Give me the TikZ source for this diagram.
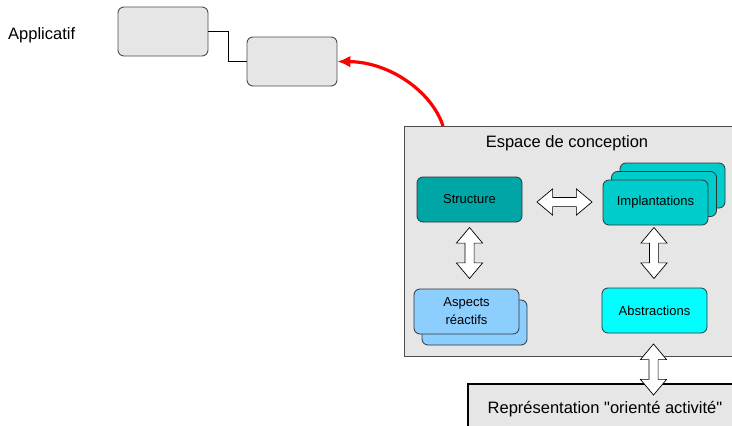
\documentclass[tikz,border=0pt]{standalone}
\usepackage{fontspec}
\setmainfont{Liberation Sans}
\usepackage{xcolor}
\usetikzlibrary{arrows.meta,shapes.arrows}

\definecolor{boxgray}{HTML}{E6E6E6}
\definecolor{edgegray}{HTML}{4D4D4D}
\definecolor{structcol}{HTML}{00A6A6}
\definecolor{implcol}{HTML}{00CCCC}
\definecolor{abstrcol}{HTML}{00FFFF}
\definecolor{aspcol}{HTML}{8CCFFF}

\tikzset{
  appbox/.style={draw=edgegray, fill=boxgray, rounded corners=6pt, line width=0.9pt,
    minimum width=90pt, minimum height=49pt},
  sbox/.style={draw=black!80, rounded corners=6pt, line width=0.8pt, align=center,
    minimum width=105pt, minimum height=45pt, font=\fontsize{13}{18}\selectfont},
  dblarrow/.style={double arrow, draw=black, fill=white, line width=0.7pt,
    inner xsep=0pt, inner ysep=4.25pt, double arrow head extend=8.5pt, double arrow tip angle=80},
  vdblarrow/.style={dblarrow, inner xsep=4.25pt, inner ysep=0pt, shape border rotate=90},
  bigtxt/.style={font=\fontsize{16.5}{20}\selectfont, inner sep=0pt}
}

\begin{document}
\begin{tikzpicture}[x=1pt, y=-1pt]
    \clip (0,0) rectangle (732,426);
    \fill[white] (0,0) rectangle (732,426);

    % applicative level
    \node[bigtxt, anchor=base west] (appl) at (8,39) {Applicatif};
    \node[appbox] (A) at (163,31.5) {};
    \node[appbox] (B) at (292,61.5) {};
    \draw[line width=0.8pt] (A.east) -- ++(20,0) |- (B.west);

    % design space
    \node[draw=edgegray, fill=boxgray, line width=0.9pt, anchor=north west,
      minimum width=340pt, minimum height=230pt] (esp) at (404,126) {};
    \node[bigtxt, anchor=base] (esptitle) at (567,147) {Espace de conception};

    \node[sbox, fill=structcol] (S) at (469.5,199.5) {Structure};
    \node[sbox, fill=implcol] (I3) at (672.5,185.5) {};
    \node[sbox, fill=implcol] (I2) at (664,194) {};
    \node[sbox, fill=implcol] (I) at (655.5,202.5) {Implantations};
    \node[sbox, fill=aspcol] (R2) at (474.5,322.5) {};
    \node[sbox, fill=aspcol] (R) at (466.5,311.5) {Aspects\\réactifs};
    \node[sbox, fill=abstrcol] (Ab) at (654.5,310.5) {Abstractions};

    % activity representation
    \node[draw=black, fill=boxgray, line width=2pt, anchor=north west,
      minimum width=280pt, minimum height=60pt] (rep) at (467,383) {};
    \node[bigtxt, anchor=base] (reptxt) at (605,413)
      {Représentation \textquotedbl orienté activité\textquotedbl};

    % links between the parts
    \node[dblarrow, minimum height=55pt] (SI) at (564.5,202) {};
    \node[vdblarrow, minimum height=51pt] (SR) at (469.5,253) {};
    \node[vdblarrow, minimum height=51pt] (IA) at (654,253) {};
    \node[vdblarrow, minimum height=51pt] (AR) at (653.5,369.5) {};

    % mapping back to the application
    \coordinate (up) at (443,126);
    \draw[red, line width=3.2pt, -{Latex[length=13pt,width=12pt]}]
      (up) .. controls (432,92) and (390,62) .. (B.east);
\end{tikzpicture}
\end{document}
